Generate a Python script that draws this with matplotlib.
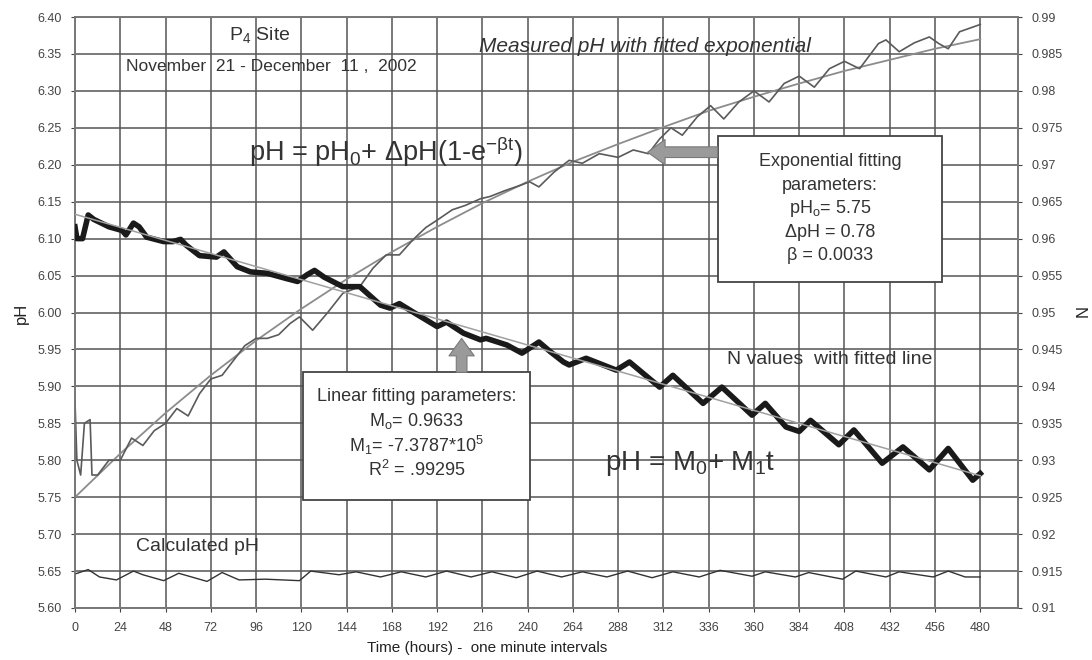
import matplotlib
matplotlib.use("Agg")
import matplotlib.pyplot as plt
from matplotlib.patches import Rectangle

plt.rcParams['font.family'] = ['Liberation Sans', 'DejaVu Sans']
plt.rcParams['mathtext.fontset'] = 'custom'
plt.rcParams['mathtext.rm'] = 'Liberation Sans'
plt.rcParams['mathtext.it'] = 'Liberation Sans:italic'
plt.rcParams['mathtext.bf'] = 'Liberation Sans:bold'

# ---------------- data ----------------
# measured pH (left axis)
meas_t = [0, 1, 3, 5, 8, 9, 12, 18, 24, 30, 36, 42, 48, 54, 60, 66, 72, 78, 84, 90,
          96, 102, 108, 114, 119, 126, 134, 142, 151, 158, 165, 172, 179, 186, 192,
          200, 207, 215, 220, 228, 236, 241, 246, 254, 262, 269, 278, 288, 296, 304,
          310, 316, 322, 330, 337, 344, 352, 360, 368, 376, 384, 392, 400, 408, 416,
          426, 430, 437, 445, 453, 458, 463, 469, 479, 480]
meas_ph = [5.88, 5.80, 5.78, 5.85, 5.855, 5.78, 5.78, 5.80, 5.80, 5.83, 5.82, 5.84,
           5.85, 5.87, 5.86, 5.89, 5.91, 5.915, 5.935, 5.955, 5.965, 5.965, 5.97,
           5.985, 5.994, 5.976, 6.00, 6.026, 6.035, 6.06, 6.078, 6.078, 6.098, 6.115,
           6.125, 6.139, 6.145, 6.154, 6.157, 6.165, 6.172, 6.177, 6.170, 6.19, 6.206,
           6.202, 6.215, 6.21, 6.22, 6.215, 6.235, 6.25, 6.24, 6.265, 6.28, 6.262,
           6.285, 6.30, 6.285, 6.31, 6.32, 6.305, 6.33, 6.34, 6.33, 6.364, 6.369,
           6.353, 6.365, 6.373, 6.364, 6.357, 6.380, 6.389, 6.39]

# fitted exponential (values read at 24 h steps)
expfit_t = list(range(0, 481, 24))
expfit_ph = [5.750, 5.809, 5.864, 5.915, 5.962, 6.005, 6.045, 6.082, 6.116, 6.148,
             6.177, 6.204, 6.228, 6.251, 6.273, 6.292, 6.310, 6.327, 6.342, 6.357,
             6.370]

# N values (right axis)
n_t = [0, 1, 4, 7, 10, 18, 25, 27, 31, 34, 38, 47, 52, 56, 59, 66, 75, 79, 86, 93,
       102, 112, 118, 123, 127, 132, 142, 151, 162, 167, 172, 179, 192, 197, 206,
       215, 218, 229, 237, 246, 252, 259, 262, 271, 287, 294, 310, 317, 333, 343,
       359, 366, 377, 384, 390, 405, 413, 428, 439, 453, 463, 476, 480]
n_val = [0.9616, 0.9600, 0.9600, 0.9632, 0.9626, 0.9616, 0.9611, 0.9605, 0.9621,
         0.9616, 0.9602, 0.9596, 0.9596, 0.9599, 0.9591, 0.9577, 0.9575, 0.9582,
         0.9562, 0.9555, 0.9553, 0.9546, 0.9542, 0.9551, 0.9557, 0.9548, 0.9535,
         0.9535, 0.9510, 0.9506, 0.9512, 0.9501, 0.9481, 0.9487, 0.9472, 0.9463,
         0.9465, 0.9456, 0.9445, 0.9460, 0.9447, 0.9433, 0.9429, 0.9438, 0.9422,
         0.9433, 0.9399, 0.9415, 0.9377, 0.9399, 0.9361, 0.9377, 0.9345, 0.9339,
         0.9354, 0.9321, 0.9341, 0.9296, 0.9318, 0.9287, 0.9316, 0.9273, 0.9282]

# fitted straight line for N
linfit_t = [0, 480]
linfit_n = [0.9633, 0.9279]

# calculated pH (left axis)
calc_t = [0, 7, 13, 22, 31, 36, 47, 55, 70, 78, 87, 101, 119, 125, 140, 149, 162,
          173, 186, 197, 210, 221, 234, 245, 258, 269, 282, 293, 306, 317, 331, 342,
          359, 366, 382, 389, 407, 414, 430, 437, 455, 463, 472, 480]
calc_ph = [5.646, 5.652, 5.642, 5.638, 5.650, 5.645, 5.637, 5.647, 5.636, 5.648,
           5.638, 5.639, 5.637, 5.650, 5.645, 5.649, 5.642, 5.649, 5.642, 5.650,
           5.642, 5.649, 5.641, 5.650, 5.642, 5.649, 5.642, 5.650, 5.641, 5.649,
           5.642, 5.651, 5.643, 5.649, 5.642, 5.648, 5.639, 5.650, 5.642, 5.649,
           5.642, 5.650, 5.642, 5.642]

x_ticks = list(range(0, 481, 24))
ph_ticks = [5.60, 5.65, 5.70, 5.75, 5.80, 5.85, 5.90, 5.95, 6.00, 6.05, 6.10, 6.15,
            6.20, 6.25, 6.30, 6.35, 6.40]
n_ticks = [0.91, 0.915, 0.92, 0.925, 0.93, 0.935, 0.94, 0.945, 0.95, 0.955, 0.96,
           0.965, 0.97, 0.975, 0.98, 0.985, 0.99]
n_tick_labels = ['0.91', '0.915', '0.92', '0.925', '0.93', '0.935', '0.94', '0.945',
                 '0.95', '0.955', '0.96', '0.965', '0.97', '0.975', '0.98', '0.985',
                 '0.99']

# ---------------- figure ----------------
W, H = 1092, 660
fig = plt.figure(figsize=(W / 100, H / 100), dpi=100)
ax = fig.add_axes([75 / W, 1 - 608 / H, (1018 - 75) / W, (608 - 17) / H])
ax2 = ax.twinx()

grid_c = '#555555'
ax.set_xlim(0, 500)
ax.set_ylim(5.60, 6.40)
ax2.set_ylim(0.91, 0.99)
ax.set_xticks(x_ticks)
ax.set_yticks(ph_ticks)
ax.set_yticklabels([f'{v:.2f}' for v in ph_ticks])
ax2.set_yticks(n_ticks)
ax2.set_yticklabels(n_tick_labels)
ax.grid(True, color=grid_c, lw=1.1)
ax.set_axisbelow(True)

for a in (ax, ax2):
    for s in a.spines.values():
        s.set_color('#777777')
        s.set_linewidth(1.2)
    a.tick_params(labelsize=9, colors='#444444', length=3, width=0.8)
ax.tick_params(axis='x', pad=7)
ax.tick_params(axis='y', pad=6.5)
ax2.tick_params(axis='y', pad=6.5)

# lines
ax.plot(expfit_t, expfit_ph, color='#8c8c8c', lw=1.3, zorder=3)
ax.plot(meas_t, meas_ph, color='#5a5a5a', lw=1.2, zorder=4)
ax.plot(calc_t, calc_ph, color='#333333', lw=1.0, zorder=4)
ax2.plot(n_t, n_val, color='#1a1a1a', lw=4.0, solid_joinstyle='round', zorder=3)
ax2.plot(linfit_t, linfit_n, color='#a0a0a0', lw=1.1, zorder=4)

# axis labels
fig.text(21 / W, 1 - 313 / H, 'pH', rotation=90, ha='center', va='center',
         fontsize=12, color='#222222')
fig.text(1078 / W, 1 - 313 / H, 'N', rotation=270, ha='center', va='center',
         fontsize=12, color='#222222')
fig.text(487 / W, 1 - 648 / H, 'Time (hours) -  one minute intervals', ha='center',
         va='center', fontsize=11, color='#222222')

# annotations
tc = '#333333'
ax.text(98, 6.375, 'P$_4$ Site', ha='center', va='center', fontsize=14, color=tc)
ax.text(104, 6.333, 'November  21 - December  11 ,  2002', ha='center', va='center',
        fontsize=12.5, color=tc)
ax.text(302, 6.360, 'Measured pH with fitted exponential', ha='center', va='center',
        fontsize=15, style='italic', color=tc)
ax.text(165, 6.217, r'pH = pH$_0$+ ΔpH(1-e$^{\mathrm{-βt}}$)', ha='center',
        va='center', fontsize=19.5, color=tc)
ax.text(326, 5.795, 'pH = M$_0$+ M$_1$t', ha='center', va='center',
        fontsize=20, color=tc)
ax.text(400, 5.937, 'N values  with fitted line', ha='center', va='center',
        fontsize=14, color=tc)
ax.text(65, 5.683, 'Calculated pH', ha='center', va='center', fontsize=14, color=tc)

# exponential box
ax.add_patch(Rectangle((340.7, 6.041), 119.2, 0.198, facecolor='white',
                       edgecolor='#444444', lw=1.3, zorder=6))
exp_lines = ['Exponential fitting', 'parameters:', r'pH$_\mathrm{o}$= 5.75',
             'ΔpH = 0.78', 'β = 0.0033']
for i, s in enumerate(exp_lines):
    ax.text(400.3, 6.204 - i * 0.0318, s, ha='center', va='center', fontsize=13,
            color=tc, zorder=7)

# linear box
ax.add_patch(Rectangle((120.8, 5.746), 120.3, 0.173, facecolor='white',
                       edgecolor='#444444', lw=1.3, zorder=6))
lin_lines = ['Linear fitting parameters:', r'M$_\mathrm{o}$= 0.9633',
             'M$_1$= -7.3787*10$^5$', 'R$^2$ = .99295']
for i, s in enumerate(lin_lines):
    ax.text(181, 5.886 - i * 0.033, s, ha='center', va='center', fontsize=13,
            color=tc, zorder=7)

# arrows
ax.annotate('', xy=(303.6, 6.217), xytext=(340.7, 6.217),
            arrowprops=dict(arrowstyle='simple,head_width=1.3,head_length=0.9,tail_width=0.55',
                            fc='#9a9a9a', ec='#7a7a7a', lw=0.8, mutation_scale=14,
                            shrinkA=0, shrinkB=0), zorder=6)
ax.annotate('', xy=(205, 5.965), xytext=(205, 5.919),
            arrowprops=dict(arrowstyle='simple,head_width=1.3,head_length=0.9,tail_width=0.55',
                            fc='#9a9a9a', ec='#7a7a7a', lw=0.8, mutation_scale=14,
                            shrinkA=0, shrinkB=0), zorder=6)

fig.savefig('out.png', dpi=100)
